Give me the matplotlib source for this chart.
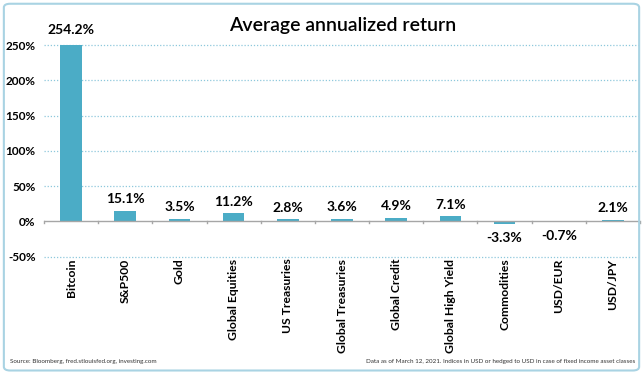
import matplotlib
matplotlib.use("Agg")
import matplotlib.pyplot as plt
from matplotlib.patches import FancyBboxPatch

categories = ["Bitcoin", "S&P500", "Gold", "Global Equities", "US Treasuries",
              "Global Treasuries", "Global Credit", "Global High Yield",
              "Commodities", "USD/EUR", "USD/JPY"]
values = [254.2, 15.1, 3.5, 11.2, 2.8, 3.6, 4.9, 7.1, -3.3, -0.7, 2.1]
yticks = [-50, 0, 50, 100, 150, 200, 250]

plt.rcParams['font.family'] = ['Lato', 'DejaVu Sans']

fig = plt.figure(figsize=(6.43, 3.75), dpi=100)
border = FancyBboxPatch((0.006, 0.012), 0.988, 0.978, boxstyle="round,pad=0,rounding_size=0.01",
                        transform=fig.transFigure, fill=False, edgecolor="#a9d3e3", linewidth=1.5)
fig.patches.append(border)

ax = fig.add_axes([44/643, 1-256.5/375, 596/643, (256.5-45)/375])
x = list(range(len(categories)))
bar_color = "#4bacc6"
ax.bar(x, values, width=0.4, color=bar_color, zorder=3)
ax.set_xlim(-0.5, len(categories) - 0.5)
ax.set_ylim(-50, 250)
ax.set_yticks(yticks)
ax.set_yticklabels([f"{v}%" for v in yticks], fontsize=8.5, fontweight="bold")
ax.tick_params(axis="y", length=0, pad=6)
for s in ["top", "right", "left", "bottom"]:
    ax.spines[s].set_visible(False)
for v in yticks:
    if v != 0:
        ax.axhline(v, color="#8ec8dc", linestyle=(0, (1, 1.5)), linewidth=0.9, zorder=1, clip_on=False)
ax.axhline(0, color="#a6a6a6", linewidth=1.0, zorder=4)
for b in range(len(categories) + 1):
    ax.plot([b - 0.5, b - 0.5], [0, -2.5], color="#a6a6a6", linewidth=1.0, zorder=4, clip_on=False)
ax.set_xticks([])

for i, v in enumerate(values):
    if v >= 0:
        ax.annotate(f"{v}%", (i, v), xytext=(0, 4), textcoords="offset points",
                    ha="center", va="bottom", fontsize=10, fontweight="bold", annotation_clip=False)
    else:
        ax.annotate(f"{v}%", (i, v), xytext=(0, -6), textcoords="offset points",
                    ha="center", va="top", fontsize=10, fontweight="bold", annotation_clip=False)

for i, c in enumerate(categories):
    ax.text(i, -53, c, rotation=90, ha="center", va="top", fontsize=8.7, fontweight="bold")

fig.text(343/643, 1 - 25/375, "Average annualized return", ha="center", va="center",
         fontsize=14, fontweight="semibold")
fig.text(10/643, 1 - 361/375, "Source: Bloomberg, fred.stlouisfed.org, investing.com",
         ha="left", va="center", fontsize=4.5, color="#333333")
fig.text(635/643, 1 - 362/375,
         "Data as of March 12, 2021. Indices in USD or hedged to USD in case of fixed income asset classes",
         ha="right", va="center", fontsize=4.5, color="#333333")

fig.savefig("out.png", dpi=100)
